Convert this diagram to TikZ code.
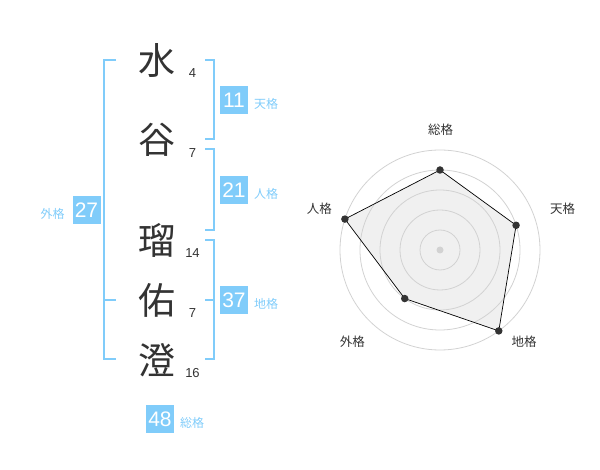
\documentclass[tikz,border=0pt]{standalone}
\usepackage{fontspec}
\setmainfont{Liberation Sans}
\newfontfamily\jp{Noto Sans CJK JP}
\definecolor{cBox}{RGB}{128,204,250}
\definecolor{cText}{RGB}{51,51,51}
\definecolor{cRing}{RGB}{210,210,210}
\definecolor{cFill}{RGB}{240,240,240}
\tikzset{
    kanji/.style={text=cText, inner sep=0, font=\jp\fontsize{37}{37}\selectfont},
    strokes/.style={text=cText, inner sep=0, font=\fontsize{13}{13}\selectfont},
    score/.style={fill=cBox, text=white, minimum size=28pt, inner sep=0, font=\fontsize{21}{21}\selectfont},
    kaku/.style={text=cBox, inner sep=0, font=\jp\fontsize{12}{12}\selectfont},
    bracket/.style={draw=cBox, line width=1.6pt},
    axislabel/.style={text=cText, inner sep=0, font=\jp\fontsize{12.5}{13}\selectfont},
    dot/.style={circle, fill=cText, inner sep=0, minimum size=7.5pt},
}

\begin{document}
\begin{tikzpicture}[x=1pt,y=-1pt]
    \useasboundingbox (0,0) rectangle (600,470);

    % name, one character per line
    \node[kanji] (k1) at (157,60) {水};
    \node[kanji] (k2) at (157,140) {谷};
    \node[kanji] (k3) at (157,240) {瑠};
    \node[kanji] (k4) at (157,300) {佑};
    \node[kanji] (k5) at (157,360) {澄};
    \node[strokes] (n1) at (192.5,73) {4};
    \node[strokes] (n2) at (192.5,153) {7};
    \node[strokes] (n3) at (192.5,253) {14};
    \node[strokes] (n4) at (192.5,313) {7};
    \node[strokes] (n5) at (192.5,373) {16};

    % brackets
    \draw[bracket] (116,60) -- (104,60) -- (104,359) -- (116,359);
    \draw[bracket] (104,300) -- (116,300);
    \draw[bracket] (205,60) -- (214,60) -- (214,139) -- (205,139);
    \draw[bracket] (205,149) -- (214,149) -- (214,230) -- (205,230);
    \draw[bracket] (205,240) -- (214,240) -- (214,359) -- (205,359);
    \draw[bracket] (205,300) -- (214,300);

    % scores
    \node[score] (ten) at (234,100) {11};
    \node[kaku] (tenL) at (266,104) {天格};
    \node[score] (jin) at (234,190) {21};
    \node[kaku] (jinL) at (266,194) {人格};
    \node[score] (chi) at (234,300) {37};
    \node[kaku] (chiL) at (266,304) {地格};
    \node[score] (gai) at (86.5,210) {27};
    \node[kaku] (gaiL) at (52.7,214) {外格};
    \node[score] (sou) at (160,419) {48};
    \node[kaku] (souL) at (192,423) {総格};

    % radar chart
    \coordinate (c) at (440,250);
    \foreach \nm/\ang/\val in {sou/-90/80, ten/-18/80, chi/54/100, gai/126/60, jin/198/100}
        \coordinate (p\nm) at ([shift={(\ang:\val)}]c);
    \fill[cFill] (psou) -- (pten) -- (pchi) -- (pgai) -- (pjin) -- cycle;
    \foreach \r in {20,40,60,80,100}
        \draw[cRing, line width=0.8pt] (c) circle[radius=\r];
    \fill[cRing] (c) circle[radius=3.5];
    \draw[black, line width=0.7pt] (psou) -- (pten) -- (pchi) -- (pgai) -- (pjin) -- cycle;
    \foreach \nm in {sou,ten,chi,gai,jin}
        \node[dot] (d\nm) at (p\nm) {};

    \node[axislabel] (aSou) at (440.7,130) {総格};
    \node[axislabel] (aTen) at (562.7,209) {天格};
    \node[axislabel] (aChi) at (524,341.7) {地格};
    \node[axislabel] (aGai) at (352.3,341.7) {外格};
    \node[axislabel] (aJin) at (319.3,209) {人格};
\end{tikzpicture}
\end{document}
